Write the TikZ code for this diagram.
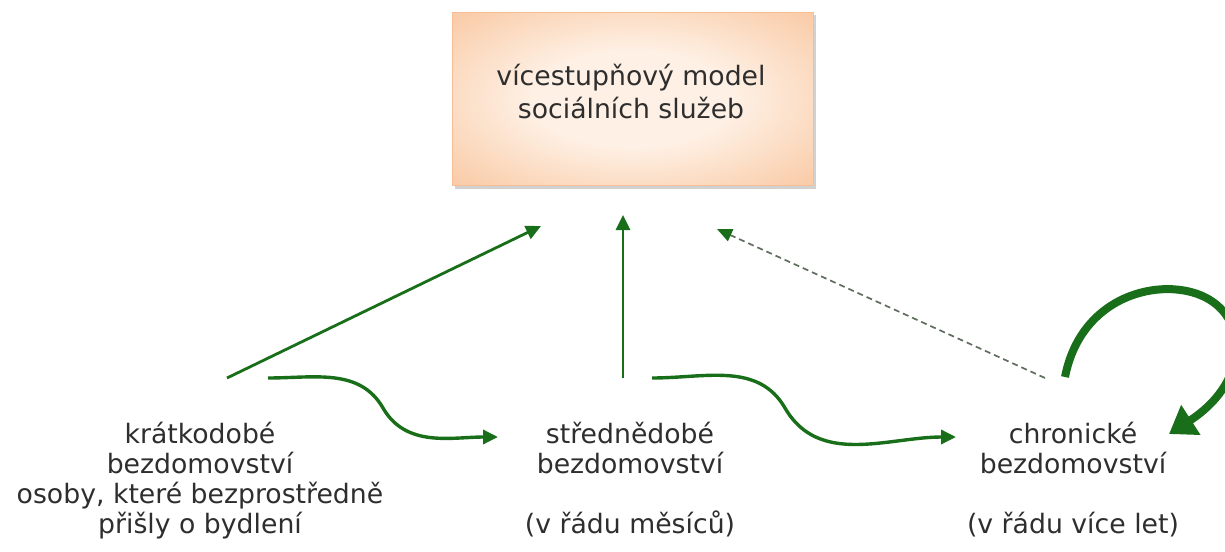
\documentclass[tikz,border=0pt]{standalone}
\usepackage{fontspec}
\setmainfont{DejaVu Sans}
\usetikzlibrary{arrows.meta}
\definecolor{dgreen}{RGB}{25,110,25}
\definecolor{dashgray}{RGB}{95,110,95}
\definecolor{boxedge}{RGB}{246,190,150}
\definecolor{boxin}{RGB}{254,240,228}
\definecolor{boxmid}{RGB}{250,208,175}
\definecolor{boxout}{RGB}{247,182,134}
\definecolor{boxfar}{RGB}{245,165,110}
\pgfdeclareradialshading{boxshade}{\pgfpoint{0bp}{0bp}}{color(0bp)=(boxin); color(14bp)=(boxin); color(32bp)=(boxmid); color(48bp)=(boxout); color(70bp)=(boxfar)}
\tikzset{
  lbl/.style={align=center, inner sep=0pt, font=\fontsize{26.7}{30}\selectfont, text=black!82},
  thinarrow/.style={draw=dgreen, line width=2.8pt, -{Triangle[length=15pt,width=14pt]}},
  curvearrow/.style={draw=dgreen, line width=3.4pt, -{Triangle[length=15pt,width=14pt]}},
  dasharrow/.style={draw=dashgray, line width=1.7pt, dash pattern=on 6pt off 4pt, -{Triangle[length=15pt,width=13pt,fill=dgreen,color=dgreen]}},
  loopArrow/.style={draw=dgreen, line width=8pt, -{Triangle[length=26pt,width=34pt]}},
}
\begin{document}
\begin{tikzpicture}[x=1pt,y=-1pt]
\useasboundingbox (0,0) rectangle (1225,551);
% shadow
\fill[black!18] (455,15) rectangle (816,189);
\node[draw=boxedge, line width=0.8pt, shading=boxshade,
      minimum width=361pt, minimum height=173pt, anchor=north west] (box) at (452,12) {};
\node[lbl, font=\fontsize{26.7}{33}\selectfont, anchor=base] (boxtext) at (631,118) {vícestupňový model\\sociálních služeb};

\node[lbl, anchor=base] (kratko) at (200,533) {krátkodobé\\bezdomovství\\osoby, které bezprostředně\\přišly o bydlení};
\node[lbl, anchor=base] (stredne) at (630,533) {střednědobé\\bezdomovství\\ \\(v řádu měsíců)};
\node[lbl, anchor=base] (chronic) at (1073,533) {chronické\\bezdomovství\\ \\(v řádu více let)};

\coordinate (k1) at (227,378);
\coordinate (k2) at (268,378);
\coordinate (s1) at (623,378);
\coordinate (s2) at (652,378);
\coordinate (c1) at (1045,378);
\coordinate (c2) at (1065,377);
\coordinate (b1) at (541,226);
\coordinate (b2) at (623,215);
\coordinate (b3) at (717,229);
\coordinate (sIn) at (498,437);
\coordinate (cIn) at (956,437);
\coordinate (cLoop) at (1169,434);
\coordinate (m1) at (383,408);
\coordinate (m2) at (785,408);

\draw[thinarrow] (k1) -- (b1);
\draw[thinarrow] (s1) -- (b2);
\draw[dasharrow] (c1) -- (b3);
\draw[curvearrow] (k2) to[out=0,in=120] (m1) to[out=-60,in=180] (sIn);
\draw[curvearrow] (s2) to[out=0,in=120] (m2) to[out=-60,in=180] (cIn);
\draw[loopArrow] (c2) .. controls (1082,290) and (1170,275) .. (1210,300)
  .. controls (1250,325) and (1245,385) .. (cLoop);
\end{tikzpicture}
\end{document}
